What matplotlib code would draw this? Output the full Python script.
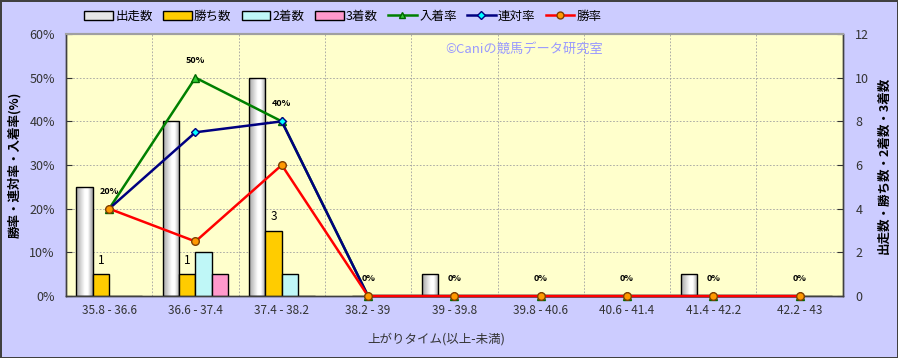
import matplotlib
matplotlib.use("Agg")
import matplotlib.pyplot as plt
import numpy as np
from matplotlib.patches import Rectangle
from matplotlib.lines import Line2D

plt.rcParams['font.family'] = ['Noto Sans CJK JP', 'DejaVu Sans']

categories = ["35.8 - 36.6", "36.6 - 37.4", "37.4 - 38.2", "38.2 - 39", "39 - 39.8",
              "39.8 - 40.6", "40.6 - 41.4", "41.4 - 42.2", "42.2 - 43"]
runs = [5, 8, 10, 0, 1, 0, 0, 1, 0]
wins = [1, 1, 3, 0, 0, 0, 0, 0, 0]
seconds = [0, 2, 1, 0, 0, 0, 0, 0, 0]
thirds = [0, 1, 0, 0, 0, 0, 0, 0, 0]
place_rate = [20, 50, 40, 0, 0, 0, 0, 0, 0]
quinella_rate = [20, 37.5, 40, 0, 0, 0, 0, 0, 0]
win_rate = [20, 12.5, 30, 0, 0, 0, 0, 0, 0]

fig = plt.figure(figsize=(8.98, 3.58), dpi=100)
fig.patch.set_facecolor('#CCCCFF')
fig.patch.set_edgecolor('#404040')
fig.patch.set_linewidth(2)

ax = fig.add_axes([0.0735, 0.173, 0.865, 0.732])
ax.set_facecolor('#FFFFCC')
ax2 = ax.twinx()

x = np.arange(len(categories))
w = 0.19

# bars on ax (count axis, shown on right)
ax.set_xlim(-0.5, len(categories) - 0.5)
ax.set_ylim(0, 12)
grad_vals = np.concatenate([np.linspace(0.65, 1.0, 35), np.linspace(1.0, 1.0, 10), np.linspace(1.0, 0.62, 20)])
grad = np.tile(grad_vals, (2, 1))
for xi, h in zip(x, runs):
    if h <= 0:
        continue
    x0 = xi - 1.5 * w - w / 2
    rect = Rectangle((x0, 0), w, h, facecolor='none', edgecolor='black', lw=1, zorder=3)
    ax.add_patch(rect)
    im = ax.imshow(grad, cmap='gray', vmin=0, vmax=1, extent=(x0, x0 + w, 0, h),
                   aspect='auto', zorder=2, interpolation='bilinear')
    im.set_clip_path(rect)
ax.set_xlim(-0.5, len(categories) - 0.5)
ax.set_ylim(0, 12)
ax.bar(x - 0.5 * w, wins, w, color='#FFCC00', edgecolor='black', lw=1, zorder=3)
ax.bar(x + 0.5 * w, seconds, w, color='#BFF7F7', edgecolor='black', lw=1, zorder=3)
ax.bar(x + 1.5 * w, thirds, w, color='#FF99CC', edgecolor='black', lw=1, zorder=3)
for xi, v in zip(x, wins):
    if v > 0:
        ax.text(xi - 0.5 * w, v + 0.35, str(v), ha='center', va='bottom', fontsize=8.5, zorder=5)

# grid
for b in np.arange(0.5, len(categories) - 0.5, 1):
    ax.axvline(b, color='#A0A0A0', lw=0.6, ls=(0, (2, 2)), zorder=1)
for yv in range(2, 12, 2):
    ax.axhline(yv, color='#A0A0A0', lw=0.6, ls=(0, (2, 2)), zorder=1)

ax.yaxis.tick_right()
ax.yaxis.set_label_position('right')
ax.set_yticks(range(0, 13, 2))
ax.tick_params(axis='y', direction='in', length=4, labelsize=9, colors='#333333', pad=9)
ax.set_xticks(x)
ax.set_xticklabels(categories, fontsize=8.5, color='#333333')
ax.tick_params(axis='x', length=0, pad=6)
ax.set_ylabel('出走数・勝ち数・2着数・3着数', fontsize=9, fontweight='bold', rotation=90)
ax.yaxis.set_label_coords(1.045, 0.5)

# lines on ax2 (percent axis, shown on left)
ax2.set_ylim(0, 60)
ax2.yaxis.tick_left()
ax2.yaxis.set_label_position('left')
ax2.set_yticks(range(0, 61, 10))
ax2.set_yticklabels([f'{v}%' for v in range(0, 61, 10)])
ax2.tick_params(axis='y', direction='in', length=4, labelsize=9, colors='#333333', pad=8)
ax2.set_ylabel('勝率・連対率・入着率(%)', fontsize=9, fontweight='bold')
ax2.yaxis.set_label_coords(-0.057, 0.5)

ax2.plot(x, place_rate, color='#008000', lw=1.8, marker='^', ms=6, mfc='#33CC33', mec='#006600',
         zorder=4, clip_on=False)
ax2.plot(x, quinella_rate, color='#000080', lw=1.8, marker='D', ms=4.5, mfc='#00FFFF', mec='#000080',
         zorder=5, clip_on=False)
ax2.plot(x, win_rate, color='#FF0000', lw=1.8, marker='o', ms=5.5, mfc='#FF9900', mec='#804000',
         zorder=6, clip_on=False)
for xi, v in zip(x, place_rate):
    ax2.text(xi, v + 3, f'{v:g}%', ha='center', va='bottom', fontsize=6.5, fontweight='bold', zorder=7)

for a in (ax, ax2):
    for s in a.spines.values():
        s.set_color('#404040')
        s.set_linewidth(1)
    a.spines['top'].set_color('#A0A0A0')
    a.spines['top'].set_linewidth(1.5)

ax.set_xlabel('上がりタイム(以上-未満)', fontsize=9, color='#333333')
ax.xaxis.set_label_coords(0.477, -0.141)

ax2.text(0.488, 0.94, '©Caniの競馬データ研究室', transform=ax2.transAxes, fontsize=9.5,
         color='#9999FF', ha='left', va='center', zorder=8)

handles = [
    Rectangle((0, 0), 1, 1, facecolor='#E6E6E6', edgecolor='black', lw=1),
    Rectangle((0, 0), 1, 1, facecolor='#FFCC00', edgecolor='black', lw=1),
    Rectangle((0, 0), 1, 1, facecolor='#BFF7F7', edgecolor='black', lw=1),
    Rectangle((0, 0), 1, 1, facecolor='#FF99CC', edgecolor='black', lw=1),
    Line2D([], [], color='#008000', lw=1.8, marker='^', ms=5, mfc='#33CC33', mec='#006600'),
    Line2D([], [], color='#000080', lw=1.8, marker='D', ms=4, mfc='#00FFFF', mec='#000080'),
    Line2D([], [], color='#FF0000', lw=1.8, marker='o', ms=5, mfc='#FF9900', mec='#804000'),
]
labels = ['出走数', '勝ち数', '2着数', '3着数', '入着率', '連対率', '勝率']
fig.legend(handles, labels, loc='center left', bbox_to_anchor=(0.088, 0.955), ncol=7,
           frameon=False, fontsize=9, handlelength=2.3, handletextpad=0.2,
           columnspacing=0.8, borderaxespad=0)

fig.savefig('out.png', dpi=100, facecolor=fig.get_facecolor(), edgecolor=fig.get_edgecolor())
